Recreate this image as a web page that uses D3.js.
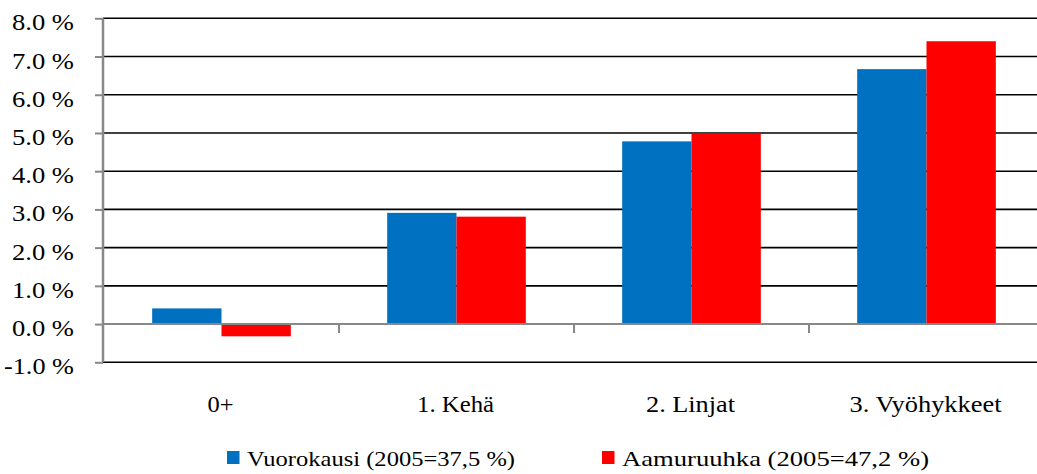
<!DOCTYPE html>
<html><head><meta charset="utf-8">
<script src="https://cdn.jsdelivr.net/npm/d3@7/dist/d3.min.js"></script>
<style>body{margin:0;background:#fff}svg{display:block}svg text{font-family:"Liberation Serif",Tinos,"Times New Roman",serif !important}</style>
</head><body><svg id="c" width="1037" height="474" style="font-family:'Liberation Serif',serif"></svg>
<script>
const categories = ["0+", "1. Kehä", "2. Linjat", "3. Vyöhykkeet"];
const seriesNames = ["Vuorokausi (2005=37,5 %)", "Aamuruuhka (2005=47,2 %)"];
const vuorokausi = [0.41, 2.91, 4.78, 6.67];
const aamuruuhka = [-0.32, 2.81, 4.98, 7.40];
const yTicks = [-1, 0, 1, 2, 3, 4, 5, 6, 7, 8];
const colors = ["#0070C0", "#FF0000"];
const FONT = "Liberation Serif";

const svg = d3.select("#c");
const plotLeft = 103, plotTop = 18.3, plotBottom = 362.3;
const y = d3.scaleLinear().domain([-1, 8]).range([plotBottom, plotTop]);
const x0 = d3.scaleBand().domain(categories).range([104, 1044]).paddingInner(0.41).paddingOuter(0.205);
const x1 = d3.scaleBand().domain([0, 1]).range([0, x0.bandwidth()]);
const xCat = d3.scaleBand().domain(categories).range([104, 1044]);

// gridlines
svg.append("g").selectAll("line").data(yTicks).join("line")
  .attr("x1", plotLeft).attr("x2", 1037).attr("y1", d => y(d)).attr("y2", d => y(d))
  .attr("stroke", "#000").attr("stroke-width", 1.6);

// bars
const series = [vuorokausi, aamuruuhka];
series.forEach((vals, si) => {
  svg.append("g").selectAll("rect").data(vals).join("rect")
    .attr("x", (d, i) => x0(categories[i]) + x1(si))
    .attr("width", x1.bandwidth())
    .attr("y", d => y(Math.max(0, d)))
    .attr("height", d => Math.abs(y(d) - y(0)))
    .attr("fill", colors[si]);
});

// x axis at zero
const xAxis = d3.axisBottom(xCat).tickSize(9).tickFormat("");
const gx = svg.append("g").attr("transform", `translate(0,${y(0)})`).call(xAxis);
gx.select(".domain").attr("stroke", "#888").attr("stroke-width", 2).attr("d", `M${plotLeft},0H1037`);
gx.selectAll(".tick").remove();
const boundaries = categories.slice(1).map(c => xCat(c));
gx.selectAll("line.b").data(boundaries).join("line").attr("class", "b")
  .attr("x1", d => d).attr("x2", d => d).attr("y1", 0).attr("y2", 9)
  .attr("stroke", "#888").attr("stroke-width", 2);

// y axis
const yAxis = d3.axisLeft(y).tickValues(yTicks).tickSize(8).tickPadding(21)
  .tickFormat(d => d.toFixed(1) + " %");
const gy = svg.append("g").attr("transform", `translate(${plotLeft},0)`).call(yAxis);
gy.attr("font-family", FONT).attr("font-size", 23);
gy.select(".domain").attr("stroke", "#888").attr("stroke-width", 2.5).attr("d", `M0,${plotTop}V${plotBottom}`);
gy.selectAll(".tick line").attr("stroke", "#888").attr("stroke-width", 2);
gy.selectAll(".tick text").style("font-family", FONT).style("font-size", "23px")
  .attr("dy", "0.5em").attr("fill", "#000")
  .attr("textLength", function(){ return this.textContent.length === 5 ? 62 : 70; })
  .attr("lengthAdjust", "spacingAndGlyphs");

// category labels
const labelW = [26, 77, 89, 152];
svg.append("g").attr("font-family", FONT).selectAll("text").data(categories).join("text")
  .attr("x", d => xCat(d) + xCat.bandwidth() / 2 - 1)
  .attr("y", 412).attr("text-anchor", "middle")
  .style("font-family", FONT).style("font-size", "24px").attr("fill", "#000")
  .text(d => d)
  .attr("textLength", (d, i) => labelW[i]).attr("lengthAdjust", "spacingAndGlyphs");

// legend
const legX = [227, 602], legW = [268, 307];
const lg = svg.append("g").attr("font-family", FONT);
seriesNames.forEach((n, i) => {
  lg.append("rect").attr("x", legX[i]).attr("y", 451).attr("width", 12.5).attr("height", 13).attr("fill", colors[i]);
  lg.append("text").attr("x", legX[i] + 20).attr("y", 466)
    .style("font-family", FONT).style("font-size", "22px").attr("fill", "#000")
    .text(n)
    .attr("textLength", legW[i]).attr("lengthAdjust", "spacingAndGlyphs");
});
</script></body></html>
